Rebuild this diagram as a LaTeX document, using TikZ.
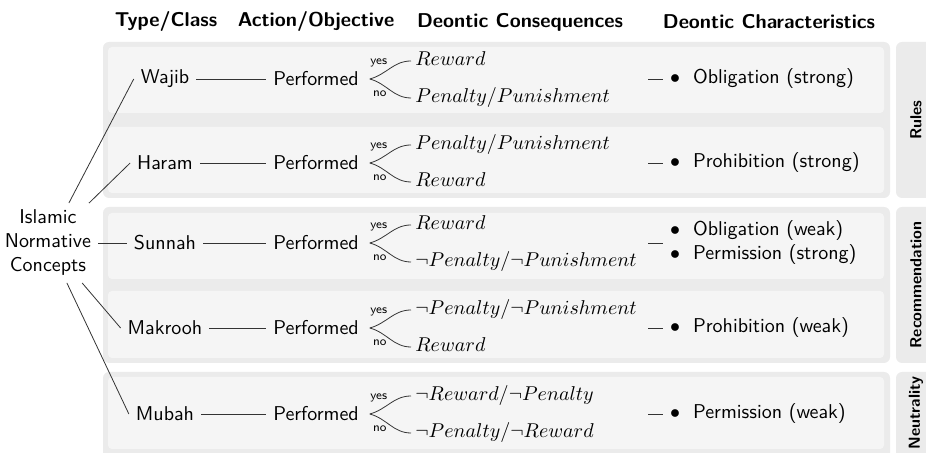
\documentclass[tikz,border=0pt]{standalone}
\usepackage{amsmath, amssymb}
\usepackage{tikz}
\usetikzlibrary{positioning, calc}
\definecolor{grpc}{HTML}{EBEBEB}
\definecolor{rowc}{HTML}{F5F5F5}
\definecolor{lnc}{HTML}{333333}
\newcommand{\itm}[1]{$\bullet$\hspace{6.5pt}#1}

\begin{document}
\begin{tikzpicture}[x=0.5pt, y=0.5pt, line width=0.4pt, font=\sffamily,
    grp/.style={fill=grpc, rounded corners=3pt},
    rowbox/.style={fill=rowc, rounded corners=2pt},
    hdr/.style={font=\sffamily\bfseries},
    side/.style={font=\sffamily\bfseries\footnotesize, rotate=90},
    cons/.style={anchor=west, inner sep=2pt, text height=7pt, text depth=2pt},
    yn/.style={font=\sffamily\fontsize{6.2}{7}\selectfont, inner sep=0pt},
    conn/.style={lnc}]
  \useasboundingbox (0,0) rectangle (926,453);
  % group panels
  \fill[grp] (103,255) rectangle (890,411);
  \fill[grp] (103,90) rectangle (890,246);
  \fill[grp] (103,-6) rectangle (890,81);
  \fill[grp] (896,255) rectangle (940,411);
  \fill[grp] (896,90) rectangle (940,246);
  \fill[grp] (896,-6) rectangle (940,81);
  \foreach \a/\b in {340/406, 260/326, 174/240, 95/162, 4/76}
    \fill[rowbox] (108,\a) rectangle (884,\b);
  \node[side] (sRules) at (916,333) {Rules};
  \node[side] (sRec) at (916,168) {Recommendation};
  \node[side] (sNeu) at (916,40) {Neutrality};
  % column headers
  \node[hdr] (hType) at (166,431) {Type/Class};
  \node[hdr] (hAct) at (316,431) {Action/Objective};
  \node[hdr] (hCons) at (520,431) {Deontic Consequences};
  \node[hdr] (hChar) at (769,431) {Deontic Characteristics};
  \node[align=center] (inc) at (48,210) {Islamic\\Normative\\Concepts};
  \foreach \i/\y/\typ/\cA/\cB/\chr in {
      1/374/Wajib/{Reward}/{Penalty/Punishment}/{\itm{Obligation (strong)}},
      2/290/Haram/{Penalty/Punishment}/{Reward}/{\itm{Prohibition (strong)}},
      3/210/Sunnah/{Reward}/{\neg Penalty/\neg Punishment}/{\itm{Obligation (weak)}\\\itm{Permission (strong)}},
      4/125/Makrooh/{\neg Penalty/\neg Punishment}/{Reward}/{\itm{Prohibition (weak)}},
      5/39/Mubah/{\neg Reward/\neg Penalty}/{\neg Penalty/\neg Reward}/{\itm{Permission (weak)}}}{
    \node (t\i) at (165,\y) {\typ};
    \node (p\i) at (316,\y) {Performed};
    \node[cons] (u\i) at (411,\y+18) {$\cA$};
    \node[cons] (d\i) at (411,\y-19) {$\cB$};
    \coordinate (f\i) at ($(p\i.east)+(4,0)$);
    \coordinate (k\i) at (648,\y);
    \node[anchor=west, align=left] (c\i) at (663,\y) {\chr};
    \draw[conn] (inc) -- (t\i.west);
    \draw[conn] (t\i) -- (p\i);
    \draw[conn] (f\i) to[out=15, in=180] (u\i.west);
    \draw[conn] (f\i) to[out=-15, in=180] (d\i.west);
    \node[yn] (y\i) at ($(f\i)+(9,16)$) {yes};
    \node[yn] (n\i) at ($(f\i)+(10,-15)$) {no};
    \draw[conn] (k\i) -- (c\i.west);
  }
\end{tikzpicture}
\end{document}
